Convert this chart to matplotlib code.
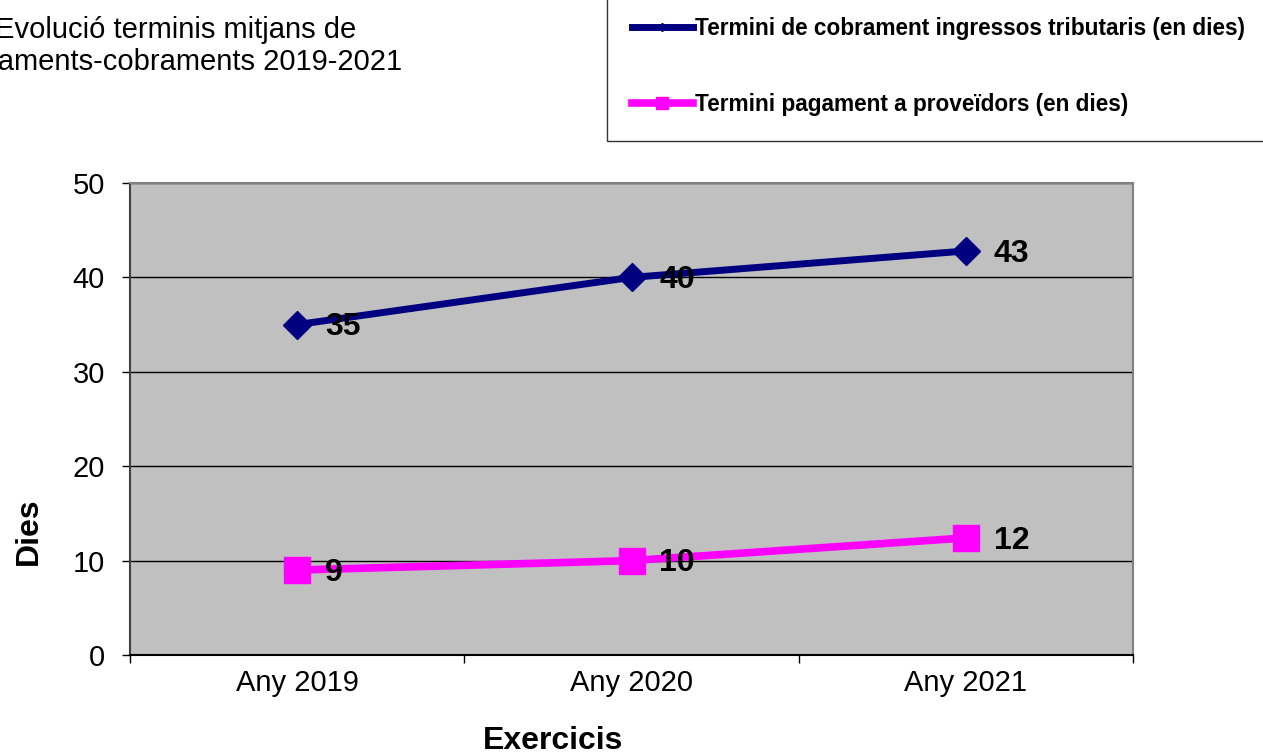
import matplotlib
matplotlib.use("Agg")
import matplotlib.pyplot as plt
from matplotlib.lines import Line2D

# dades
anys = ["Any 2019", "Any 2020", "Any 2021"]
cobrament = [35, 40, 42.8]
pagament = [9, 10, 12.4]
etiq_cobrament = ["35", "40", "43"]
etiq_pagament = ["9", "10", "12"]
noms = ["Termini de cobrament ingressos tributaris (en dies)",
        "Termini pagament a proveïdors (en dies)"]

plt.rcParams['font.family'] = ['Liberation Sans', 'DejaVu Sans']

W, H = 1263, 756
fig = plt.figure(figsize=(W / 100, H / 100), dpi=100)
ax = fig.add_axes([130 / W, 1 - 655 / H, (1133 - 130) / W, (655 - 183) / H])
ax.set_facecolor('#C0C0C0')

x = list(range(len(anys)))
blau = '#000080'
rosa = '#FF00FF'
ax.plot(x, cobrament, color=blau, lw=5, marker='D', ms=14.5, zorder=3)
ax.plot(x, pagament, color=rosa, lw=5.5, marker='s', ms=18.5, zorder=3)

for xi, v, t in zip(x, cobrament, etiq_cobrament):
    ax.annotate(t, (xi, v), xytext=(20, -2), textcoords='offset points',
                ha='left', va='center', fontsize=23, fontweight='bold', zorder=4)
for xi, v, t in zip(x, pagament, etiq_pagament):
    ax.annotate(t, (xi, v), xytext=(20, -2), textcoords='offset points',
                ha='left', va='center', fontsize=23, fontweight='bold', zorder=4)

ax.set_xlim(-0.5, 2.5)
ax.set_ylim(0, 50)
ax.set_yticks([0, 10, 20, 30, 40, 50])
ax.set_xticks(x)
ax.set_xticklabels(anys)
ax.set_xticks([-0.5, 0.5, 1.5, 2.5], minor=True)
ax.tick_params(axis='x', which='major', length=0, pad=10, labelsize=21)
ax.tick_params(axis='x', which='minor', length=6, direction='out', width=1)
ax.tick_params(axis='y', length=6, direction='out', pad=12, labelsize=21, width=1)
ax.grid(axis='y', color='black', lw=1)
ax.set_axisbelow(True)

ax.spines['top'].set_color('#808080')
ax.spines['right'].set_color('#808080')
ax.spines['left'].set_color('#404040')
ax.spines['bottom'].set_color('black')
for s in ax.spines.values():
    s.set_linewidth(1.5)

fig.text(553 / W, 1 - 741 / H, "Exercicis", ha='center', va='center',
         fontsize=23, fontweight='bold')
fig.text(29 / W, 1 - 531 / H, "Dies", ha='center', va='center',
         rotation=90, fontsize=23, fontweight='bold')

# titol retallat a l'esquerra (com a la imatge original)
fig.text(176 / W, 1 - 46 / H, "Evolució terminis mitjans de\npagaments-cobraments 2019-2021",
         ha='center', va='center', fontsize=21, linespacing=1.22)

handles = [Line2D([], [], color=blau, lw=5, marker='D', ms=4),
           Line2D([], [], color=rosa, lw=5.5, marker='s', ms=8)]
leg = fig.legend(handles, noms, loc='lower left',
                 bbox_to_anchor=(607 / W, 1 - 141 / H), frameon=True,
                 prop={'weight': 'bold', 'size': 16.3}, handlelength=2.7,
                 handletextpad=0.1, labelspacing=2.33, borderpad=1.1,
                 borderaxespad=0, fancybox=False)
leg.get_frame().set_edgecolor('black')
leg.get_frame().set_linewidth(1)

fig.savefig("out.png", dpi=100)
